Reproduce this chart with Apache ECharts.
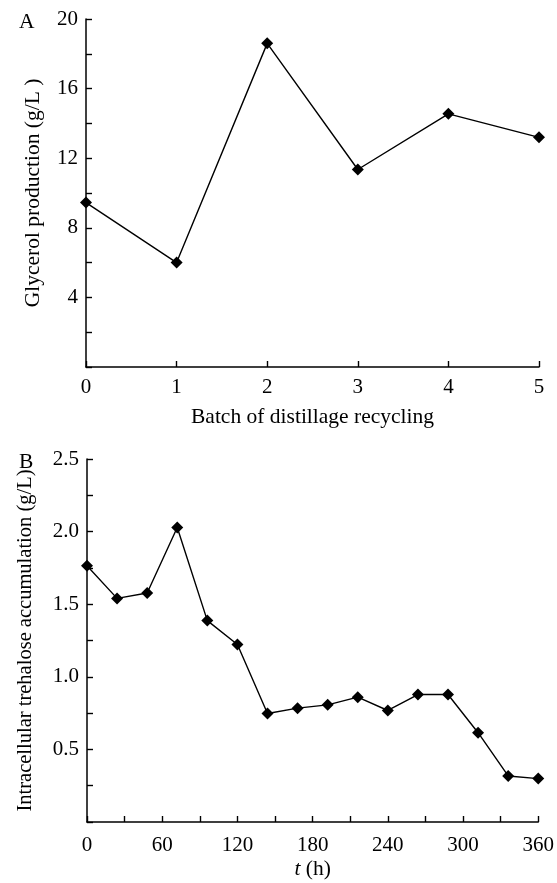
<!DOCTYPE html>
<html>
<head>
<meta charset="utf-8">
<script src="https://cdn.jsdelivr.net/npm/echarts@6/dist/echarts.min.js"></script>
<style>
html,body{margin:0;padding:0;background:#fff;}
#chart{width:557px;height:883px;}
</style>
</head>
<body>
<div id="chart"></div>
<script>
// Panel A: glycerol production vs batch of distillage recycling
const batches = [0, 1, 2, 3, 4, 5];
const glycerol = [9.45, 6.0, 18.6, 11.35, 14.55, 13.2];
// Panel B: intracellular trehalose vs time
const hours = [0, 24, 48, 72, 96, 120, 144, 168, 192, 216, 240, 264, 288, 312, 336, 360];
const trehalose = [1.765, 1.54, 1.577, 2.028, 1.387, 1.222, 0.747, 0.784, 0.807, 0.86, 0.768, 0.878, 0.878, 0.615, 0.317, 0.299];

const FONT = "'Liberation Serif', 'Times New Roman', serif";
const chart = echarts.init(document.getElementById('chart'), null, {renderer: 'canvas'});

function axisCommon(extra) {
  return Object.assign({
    axisLine: {show: true, onZero: false, lineStyle: {color: '#000', width: 1.5}},
    axisTick: {show: true, inside: true, length: 6, lineStyle: {color: '#000', width: 1.4}},
    minorTick: {show: true, splitNumber: 2, length: 6, lineStyle: {color: '#000', width: 1.4}},
    splitLine: {show: false},
    minorSplitLine: {show: false},
    axisLabel: {color: '#000', fontFamily: FONT, fontSize: 21, margin: 10},
    nameTextStyle: {color: '#000', fontFamily: FONT, fontSize: 21.5}
  }, extra);
}

const option = {
  backgroundColor: '#fff',
  animation: false,
  grid: [
    {left: 86, top: 19, width: 453, height: 348, containLabel: false},
    {left: 87, top: 459, width: 452, height: 363, containLabel: false}
  ],
  xAxis: [
    axisCommon({
      type: 'value', gridIndex: 0, min: 0, max: 5, interval: 1,
      minorTick: {show: false},
      name: 'Batch of distillage recycling', nameLocation: 'middle', nameGap: 39
    }),
    axisCommon({
      type: 'value', gridIndex: 1, min: 0, max: 360, interval: 60,
      axisLabel: {color: '#000', fontFamily: FONT, fontSize: 21, margin: 13},
      name: '{i|t} (h)', nameLocation: 'middle', nameGap: 36,
      nameTextStyle: {color: '#000', fontFamily: FONT, fontSize: 21.5,
        rich: {i: {fontStyle: 'italic', fontFamily: FONT, fontSize: 21.5, color: '#000'}}}
    })
  ],
  yAxis: [
    axisCommon({
      type: 'value', gridIndex: 0, min: 0, max: 20, interval: 4,
      axisLabel: {color: '#000', fontFamily: FONT, fontSize: 21, margin: 8,
        formatter: v => (v === 0 ? '' : String(v))},
      name: 'Glycerol production (g/L )', nameLocation: 'middle', nameRotate: 90, nameGap: 42
    }),
    axisCommon({
      type: 'value', gridIndex: 1, min: 0, max: 2.5, interval: 0.5,
      axisLabel: {color: '#000', fontFamily: FONT, fontSize: 21, margin: 8,
        formatter: v => (v === 0 ? '' : v.toFixed(1))},
      name: 'Intracellular trehalose accumulation (g/L)', nameLocation: 'middle', nameRotate: 90, nameGap: 51,
      nameTextStyle: {color: '#000', fontFamily: FONT, fontSize: 20.5}
    })
  ],
  series: [
    {
      type: 'line', xAxisIndex: 0, yAxisIndex: 0,
      data: batches.map((b, i) => [b, glycerol[i]]),
      symbol: 'diamond', symbolSize: 12,
      lineStyle: {color: '#000', width: 1.4},
      itemStyle: {color: '#000'}
    },
    {
      type: 'line', xAxisIndex: 1, yAxisIndex: 1,
      data: hours.map((h, i) => [h, trehalose[i]]),
      symbol: 'diamond', symbolSize: 12,
      lineStyle: {color: '#000', width: 1.4},
      itemStyle: {color: '#000'}
    }
  ],
  graphic: [
    {type: 'text', left: 19, top: 11, style: {text: 'A', fontFamily: FONT, fontSize: 21.5, fill: '#000'}},
    {type: 'text', left: 19, top: 451, style: {text: 'B', fontFamily: FONT, fontSize: 21.5, fill: '#000'}}
  ]
};
chart.setOption(option);
</script>
</body>
</html>
